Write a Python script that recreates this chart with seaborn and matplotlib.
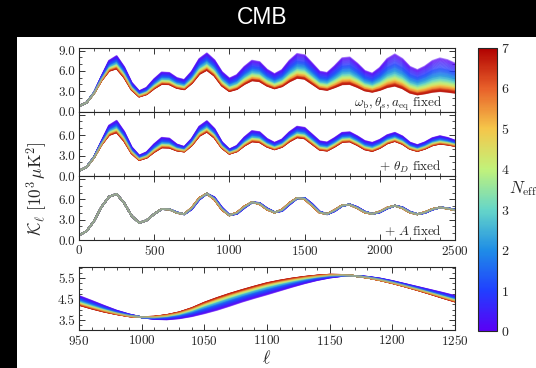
import numpy as np
import pandas as pd
import matplotlib
matplotlib.use("Agg")
import matplotlib.pyplot as plt
from matplotlib.colors import LinearSegmentedColormap, Normalize
from matplotlib.cm import ScalarMappable
from matplotlib.patches import Rectangle
from matplotlib.ticker import MultipleLocator, FormatStrFormatter
import seaborn as sns

# multipole grid of the three full-range panels
ELL = np.arange(0, 2501, 50)

# panel 1: omega_b, theta_s, a_eq fixed (Neff = 0 is the top edge, Neff = 7 the bottom edge)
K_TOP_NEFF0 = [0.8, 1.3, 2.8, 5.2, 7.5, 8.2, 6.58, 4.26, 3.0, 3.52, 4.79, 5.78, 5.71, 4.96, 4.66,
               5.91, 7.77, 8.6, 7.6, 5.85, 4.88, 5.4, 6.62, 7.52, 7.32, 6.19, 5.53, 6.14, 7.53, 8.52,
               8.32, 7.12, 5.91, 5.71, 6.72, 7.88, 8.0, 7.1, 6.01, 5.61, 6.46, 7.79, 8.45, 7.78, 6.62,
               6.13, 6.67, 7.48, 7.86, 7.6, 7.1]
K_TOP_NEFF7 = [0.8, 1.3, 2.7, 4.6, 6.0, 6.35, 5.04, 3.2, 2.2, 2.55, 3.4, 4.07, 4.02, 3.48, 3.27,
               4.17, 5.53, 6.13, 5.28, 3.81, 3.0, 3.31, 4.05, 4.59, 4.47, 3.8, 3.4, 3.72, 4.44, 4.96,
               4.82, 4.08, 3.33, 3.18, 3.57, 4.01, 4.05, 3.62, 3.1, 2.9, 3.17, 3.59, 3.8, 3.42, 2.77,
               2.5, 2.66, 2.89, 3.0, 2.9, 2.75]

# panel 2: + theta_D fixed
K_MID_NEFF0 = [0.75, 1.3, 2.8, 5.1, 7.4, 8.1, 6.5, 4.23, 3.0, 3.49, 4.67, 5.61, 5.5, 4.63, 4.27,
               5.47, 7.25, 8.05, 6.93, 4.98, 3.9, 4.43, 5.68, 6.6, 6.44, 5.45, 4.87, 5.36, 6.45, 7.24,
               7.07, 6.09, 5.1, 4.92, 5.58, 6.34, 6.42, 5.84, 5.14, 4.87, 5.31, 6.0, 6.34, 5.82, 4.91,
               4.53, 4.94, 5.56, 5.85, 5.6, 5.2]
K_MID_NEFF7 = [0.75, 1.3, 2.7, 4.6, 6.0, 6.4, 5.13, 3.32, 2.34, 2.68, 3.52, 4.18, 4.15, 3.74, 3.58,
               4.5, 5.87, 6.49, 5.62, 4.1, 3.26, 3.61, 4.45, 5.06, 4.96, 4.29, 3.9, 4.26, 5.07, 5.66,
               5.51, 4.68, 3.85, 3.71, 4.3, 4.99, 5.06, 4.54, 3.9, 3.66, 4.1, 4.78, 5.12, 4.7, 3.97,
               3.66, 3.99, 4.49, 4.73, 4.6, 4.4]

# panel 3: + A fixed
K_LOW_NEFF0 = [0.7, 1.3, 2.8, 4.9, 6.4, 6.8, 5.47, 3.57, 2.53, 2.91, 3.84, 4.56, 4.56, 4.08, 3.8,
               4.54, 5.96, 6.83, 6.31, 4.82, 3.68, 3.85, 4.74, 5.53, 5.48, 4.69, 4.12, 4.27, 5.23, 6.13,
               6.22, 5.34, 4.21, 3.8, 4.25, 5.02, 5.26, 4.87, 4.21, 3.86, 4.07, 4.65, 5.06, 4.84, 4.19,
               3.82, 3.99, 4.48, 4.8, 4.71, 4.47]
K_LOW_NEFF7 = [0.7, 1.3, 2.8, 4.9, 6.4, 6.8, 5.47, 3.57, 2.53, 2.91, 3.84, 4.58, 4.53, 4.02, 3.82,
               4.78, 6.21, 6.85, 5.98, 4.47, 3.64, 4.05, 4.97, 5.58, 5.32, 4.5, 4.05, 4.49, 5.49, 6.21,
               6.04, 5.04, 4.03, 3.85, 4.44, 5.13, 5.2, 4.7, 4.08, 3.85, 4.21, 4.78, 5.06, 4.69, 4.06,
               3.8, 4.11, 4.58, 4.8, 4.65, 4.4]

# panel 4: zoom of panel 3
ELL_ZOOM = np.arange(950, 1251, 10)
K_ZOOM_NEFF0 = [4.65, 4.42, 4.18, 3.95, 3.77, 3.63, 3.55, 3.53, 3.58, 3.68, 3.82, 3.98, 4.17, 4.37,
                4.55, 4.72, 4.9, 5.08, 5.25, 5.4, 5.52, 5.6, 5.6, 5.56, 5.48, 5.36, 5.22, 5.08,
                4.94, 4.8, 4.65]
K_ZOOM_NEFF7 = [4.22, 4.05, 3.9, 3.78, 3.68, 3.64, 3.66, 3.74, 3.87, 4.07, 4.33, 4.55, 4.75, 4.93,
                5.1, 5.26, 5.38, 5.48, 5.56, 5.62, 5.66, 5.65, 5.6, 5.52, 5.4, 5.26, 5.1, 4.93,
                4.75, 4.56, 4.38]

# where each integer Neff sits inside the band (1 = Neff 0 edge, 0 = Neff 7 edge)
NEFF_TICKS = [0, 1, 2, 3, 4, 5, 6, 7]
BAND_POS = [1.0, 0.7, 0.5, 0.36, 0.25, 0.16, 0.08, 0.0]

PANEL_NOTES = [r"$\omega_{\rm b}, \theta_s, a_{\rm eq}$ fixed",
               r"$+\ \theta_D$ fixed",
               r"$+\ A$ fixed"]

CMAP_COLORS = ["#5a00f5", "#2040ff", "#1f8ee6", "#66d6c8", "#c2f27a", "#f5c64a", "#e8602a", "#b00000"]
cmap = LinearSegmentedColormap.from_list("neff", CMAP_COLORS)

N_LINES = 90
NEFF_LEVELS = np.linspace(0, 7, N_LINES)
# interleaved drawing order so overlapping curves blend instead of one colour winning
DRAW_ORDER = [NEFF_LEVELS[(i * 37) % N_LINES] for i in range(N_LINES)]


def band_frame(ell, k_neff0, k_neff7):
    k0 = np.asarray(k_neff0)
    k7 = np.asarray(k_neff7)
    frames = []
    for neff in NEFF_LEVELS:
        w = np.interp(neff, NEFF_TICKS, BAND_POS)
        frames.append(pd.DataFrame({"ell": ell, "K": k7 + w * (k0 - k7), "neff": neff}))
    return pd.concat(frames, ignore_index=True)


sns.set_style("ticks")
plt.rcParams["font.family"] = ["cmr10", "DejaVu Serif"]
plt.rcParams["mathtext.fontset"] = "cm"
plt.rcParams["axes.formatter.use_mathtext"] = True
plt.rcParams["axes.linewidth"] = 0.8

W, H = 536, 368
fig = plt.figure(figsize=(W / 100, H / 100), dpi=100, facecolor="black")
fig.patches.append(Rectangle((17 / W, 0), 1 - 17 / W, 1 - 37 / H, transform=fig.transFigure,
                             facecolor="white", edgecolor="none", zorder=-10))
fig.text(262 / W, 1 - 18 / H, "CMB", color="white", fontsize=16.5, family="Liberation Sans",
         ha="center", va="center")


def box(top, bottom, left=79, right=455):
    return [left / W, 1 - bottom / H, (right - left) / W, (bottom - top) / H]


ax1 = fig.add_axes(box(47.5, 111.5))
ax2 = fig.add_axes(box(111.5, 176))
ax3 = fig.add_axes(box(176, 240))
ax4 = fig.add_axes(box(266.5, 329.5))
cax = fig.add_axes(box(47.5, 331, 478, 497))

norm = Normalize(0, 7)
panels = [
    (ax1, band_frame(ELL, K_TOP_NEFF0, K_TOP_NEFF7)),
    (ax2, band_frame(ELL, K_MID_NEFF0, K_MID_NEFF7)),
    (ax3, band_frame(ELL, K_LOW_NEFF0, K_LOW_NEFF7)),
    (ax4, band_frame(ELL_ZOOM, K_ZOOM_NEFF0, K_ZOOM_NEFF7)),
]
for ax, df in panels:
    for neff in DRAW_ORDER:
        sns.lineplot(data=df[df["neff"] == neff], x="ell", y="K", color=cmap(norm(neff)),
                     estimator=None, sort=False, linewidth=1.3, alpha=0.45, ax=ax)
    ax.set_xlabel("")
    ax.set_ylabel("")
    ax.tick_params(which="both", direction="in", top=True, right=True, labelsize=9.5,
                   color="#333333", pad=3)
    ax.tick_params(which="major", length=4.5, width=0.7)
    ax.tick_params(which="minor", length=2.3, width=0.6)

for ax, note in zip([ax1, ax2, ax3], PANEL_NOTES):
    ax.set_xlim(0, 2500)
    ax.set_ylim(0, 9.45)
    ax.xaxis.set_major_locator(MultipleLocator(500))
    ax.xaxis.set_minor_locator(MultipleLocator(100))
    ax.set_yticks([0, 3, 6, 9])
    ax.yaxis.set_minor_locator(MultipleLocator(1))
    ax.yaxis.set_major_formatter(FormatStrFormatter("%.1f"))
    ax.text(0.965, 0.075, note, transform=ax.transAxes, ha="right", va="baseline", fontsize=9.5)

ax1.tick_params(labelbottom=False)
ax2.tick_params(labelbottom=False)
ax2.set_yticklabels(["0.0", "3.0", "6.0", ""])
ax3.set_yticklabels(["0.0", "3.0", "6.0", ""])

ax4.set_xlim(950, 1250)
ax4.set_ylim(3.05, 6.05)
ax4.xaxis.set_major_locator(MultipleLocator(50))
ax4.xaxis.set_minor_locator(MultipleLocator(10))
ax4.set_yticks([3.5, 4.5, 5.5])
ax4.yaxis.set_minor_locator(MultipleLocator(0.25))
ax4.yaxis.set_major_formatter(FormatStrFormatter("%.1f"))

sm = ScalarMappable(norm=norm, cmap=cmap)
cb = fig.colorbar(sm, cax=cax, ticks=NEFF_TICKS)
cb.outline.set_linewidth(0.8)
cax.tick_params(direction="in", length=3, width=0.7, labelsize=10, pad=3)
fig.text(509 / W, 1 - 189 / H, r"$N_{\rm eff}$", fontsize=12, ha="left", va="center")

fig.text(37 / W, 1 - 189 / H, r"$\mathcal{K}_\ell\ [10^3\,\mu{\rm K}^2]$", rotation=90,
         ha="center", va="center", fontsize=12.5)
fig.text(267 / W, 1 - 358 / H, r"$\ell$", ha="center", va="center", fontsize=13)

fig.savefig("out.png", dpi=100, facecolor=fig.get_facecolor())
